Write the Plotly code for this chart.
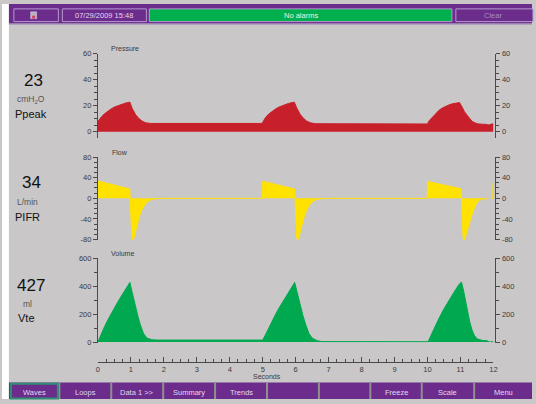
import plotly.graph_objects as go

# ---------------- data ----------------
P_T = [0.00, 0.10, 0.20, 0.30, 0.40, 0.50, 0.60, 0.70, 0.80, 0.90, 0.97, 1.04, 1.14, 1.24, 1.34, 1.45, 1.60, 4.98,
       5.00, 5.08, 5.18, 5.28, 5.38, 5.48, 5.58, 5.68, 5.78, 5.88, 5.96, 6.03, 6.13, 6.23, 6.33, 6.45, 6.60, 9.98,
       10.00, 10.05, 10.15, 10.25, 10.35, 10.45, 10.55, 10.65, 10.75, 10.85, 10.97, 11.05, 11.12, 11.20, 11.28, 11.35,
       11.45, 11.55, 11.82, None, 11.93, 12.00]
P_V = [7.8, 11.3, 13.8, 15.9, 17.6, 19.0, 20.1, 21.0, 21.8, 22.5, 22.8, 18.0, 13.3, 10.3, 8.2, 6.9, 6.4, 6.4,
       7.5, 10.8, 13.6, 15.7, 17.4, 18.9, 20.0, 21.0, 21.8, 22.4, 22.8, 18.5, 13.6, 10.5, 8.3, 6.9, 6.2, 6.0,
       6.0, 8.5, 11.2, 14.2, 16.6, 18.3, 19.7, 20.7, 21.5, 22.1, 22.5, 19.0, 15.5, 12.8, 10.0, 8.0,
       6.7, 6.0, 5.6, None, 6.0, 6.0]

F_T = [0.00, 0.97, 0.98, 1.00, 1.03, 1.06, 1.10, 1.15, 1.20, 1.27, 1.35, 1.45, 1.55, 1.65, 1.80, 2.00, 4.99,
       5.00, 5.97, 5.98, 6.00, 6.03, 6.06, 6.10, 6.15, 6.20, 6.27, 6.35, 6.45, 6.55, 6.65, 6.80, 7.00, 9.99,
       10.00, 11.02, 11.03, 11.05, 11.08, 11.12, 11.16, 11.25, 11.35, 11.45, 11.55, 11.65, 11.82, None,
       11.93, 11.98, 11.99, 12.00]
F_V = [33.5, 18.0, -5, -45, -76, -81, -76, -62, -48, -33, -20, -10, -4.5, -2, -0.5, 0, 0,
       33.0, 18.0, -5, -45, -76, -81, -76, -62, -48, -33, -20, -10, -4.5, -2, -0.5, 0, 0,
       32.6, 18.5, -5, -50, -78, -81, -72, -56, -32, -14, -4.5, -1.5, -0.5, None,
       0, 0, 30, 30]

V_T = [0.00, 0.10, 0.20, 0.30, 0.40, 0.50, 0.60, 0.70, 0.80, 0.90, 0.97, 1.04, 1.14, 1.22, 1.29, 1.39, 1.49, 1.64, 1.80, 4.98,
       5.00, 5.10, 5.20, 5.30, 5.40, 5.50, 5.60, 5.70, 5.80, 5.90, 5.97, 6.04, 6.14, 6.22, 6.30, 6.40, 6.50, 6.65, 6.80, 9.99,
       10.02, 10.10, 10.20, 10.35, 10.50, 10.65, 10.80, 10.95, 11.03, 11.10, 11.20, 11.28, 11.35, 11.42, 11.50, 11.65, 11.82,
       None, 11.93, 12.00]
V_V = [0, 58, 110, 158, 203, 245, 285, 325, 362, 400, 427, 355, 250, 180, 121, 58, 28, 16, 14, 14,
       14, 60, 110, 158, 203, 245, 285, 325, 362, 400, 427, 360, 260, 190, 128, 62, 28, 10, 3, 2,
       2, 45, 98, 170, 238, 300, 355, 410, 430, 360, 226, 145, 86, 48, 23, 12, 9,
       None, 2, 2]

X_TICKS = list(range(0, 13))
P_TICKS = [0, 20, 40, 60]
F_TICKS = [-80, -40, 0, 40, 80]
V_TICKS = [0, 200, 400, 600]

TOP_LABELS = ["07/29/2009 15:48", "No alarms", "Clear"]
BOTTOM_LABELS = ["Waves", "Loops", "Data 1 >>", "Summary", "Trends", "", "", "Freeze", "Scale", "Menu"]
READOUTS = [("23", "cmH<sub>2</sub>O", "Ppeak"), ("34", "L/min", "PIFR"), ("427", "ml", "Vte")]
PANEL_TITLES = ["Pressure", "Flow", "Volume"]

# ---------------- layout helpers ----------------
W, H = 536, 404
def X(px): return px / W
def Y(py): return 1 - py / H

FONT = "Liberation Sans, Arial, sans-serif"
GRAY = "#c9c7c8"
PURPLE = "#6b2c8c"
AX = "#4a4a4a"
TXT = "#3a3a3a"
RED = "#c8202a"
YEL = "#ffe200"
GRN = "#00a84f"

fig = go.Figure()

def wave(t, v, yax, color):
    fig.add_trace(go.Scatter(x=t, y=v, xaxis="x", yaxis=yax, mode="lines", fill="tozeroy",
                             line=dict(color=color, width=1), fillcolor=color,
                             connectgaps=False, hoverinfo="skip", showlegend=False))

wave(P_T, P_V, "y", RED)
wave(F_T, F_V, "y3", YEL)
wave(V_T, V_V, "y5", GRN)
for ax in ["y2", "y4", "y6"]:
    fig.add_trace(go.Scatter(x=[0], y=[0], xaxis="x", yaxis=ax, mode="lines",
                             line=dict(width=0), hoverinfo="skip", showlegend=False))

def yax(domain, rng, ticks, minor, side="left", overlay=None):
    d = dict(domain=domain, range=rng, tickmode="array", tickvals=ticks,
             ticktext=[str(t) for t in ticks],
             ticks="outside", ticklen=4, tickcolor=AX, tickwidth=1,
             showline=True, linecolor=AX, linewidth=1, showgrid=False, zeroline=False,
             tickfont=dict(family=FONT, size=7.5, color=TXT), fixedrange=True,
             minor=dict(tickmode="array", tickvals=minor, ticks="outside", ticklen=2.5,
                        tickcolor=AX, showgrid=False))
    if side == "right":
        d.update(side="right", overlaying=overlay, anchor="free", position=X(499))
    else:
        d.update(anchor="x")
    return d

p_dom = [Y(137.3), Y(51)]
f_dom = [Y(241), Y(156.5)]
v_dom = [Y(346.3), Y(260)]
p_min = [5, 10, 15, 25, 30, 35, 45, 50, 55]
f_min = [-70, -60, -50, -30, -20, -10, 10, 20, 30, 50, 60, 70]
v_min = [100, 300, 500]

fig.update_layout(
    width=W, height=H, autosize=False, margin=dict(l=0, r=0, t=0, b=0, pad=0),
    paper_bgcolor=GRAY, plot_bgcolor="rgba(0,0,0,0)",
    showlegend=False,
    xaxis=dict(domain=[X(97), X(497)], range=[0, 12], anchor="free", position=Y(365.7),
               tickmode="array", tickvals=X_TICKS, ticks="inside", ticklen=5, tickcolor=AX,
               showline=True, linecolor=AX, linewidth=1, showgrid=False, zeroline=False,
               tickfont=dict(family=FONT, size=7.5, color=TXT), fixedrange=True,
               minor=dict(dtick=0.25, tick0=0, ticks="inside", ticklen=3, tickcolor=AX, showgrid=False)),
    yaxis=yax(p_dom, [-5, 60], P_TICKS, p_min),
    yaxis2=yax(p_dom, [-5, 60], P_TICKS, p_min, "right", "y"),
    yaxis3=yax(f_dom, [-80, 80], F_TICKS, f_min),
    yaxis4=yax(f_dom, [-80, 80], F_TICKS, f_min, "right", "y3"),
    yaxis5=yax(v_dom, [-4, 600], V_TICKS, v_min),
    yaxis6=yax(v_dom, [-4, 600], V_TICKS, v_min, "right", "y5"),
)

shapes = []
def rect(x0, y0, x1, y1, fill, line=None, lw=0):
    shapes.append(dict(type="rect", xref="paper", yref="paper", x0=X(x0), x1=X(x1), y0=Y(y1), y1=Y(y0),
                       fillcolor=fill, line=dict(color=line or fill, width=lw), layer="above"))
def vline(x, y0, y1, color, w):
    shapes.append(dict(type="line", xref="paper", yref="paper", x0=X(x), x1=X(x), y0=Y(y1), y1=Y(y0),
                       line=dict(color=color, width=w), layer="above"))

# left white margin
rect(0, 0, 7, 404, "#ffffff")
# top bar
rect(7, 0, 536, 20, PURPLE)
shapes.append(dict(type="line", xref="paper", yref="paper", x0=X(7), x1=1, y0=Y(20.5), y1=Y(20.5),
                   line=dict(color="#9c84b4", width=1), layer="above"))
rect(12, 5, 57, 18, PURPLE, "#b69ad0", 1)
rect(61, 5, 146, 18, PURPLE, "#b69ad0", 1)
rect(149, 5, 455, 18, "#00b04f", "#b69ad0", 1)
rect(459, 5, 537, 18, PURPLE, "#b69ad0", 1)
# tiny floppy icon
rect(29, 8, 35, 15, "#b8b2bf", "#e0dce6", 0.5)
rect(30.5, 12, 33.5, 15, "#d04060")

# bottom bar
rect(7, 387, 536, 404, PURPLE)
seps = [58, 110.5, 163, 215.5, 268, 320.5, 372.5, 424.5, 477.5]
for s in seps:
    vline(s, 387, 404, "#8f8f8f", 2)
rect(9, 388.5, 56.5, 403.5, "rgba(0,0,0,0)", "#2f8f72", 2)

fig.update_layout(shapes=shapes)

ann = []
def text(x, y, s, size, color, xanchor="center"):
    ann.append(dict(x=X(x), y=Y(y), xref="paper", yref="paper", text=s, showarrow=False,
                    xanchor=xanchor, yanchor="middle",
                    font=dict(family=FONT, size=size, color=color)))

text(103.5, 12, TOP_LABELS[0], 7.5, "#e4d8f0")
text(302, 12, TOP_LABELS[1], 7.5, "#e8f4e8")
text(497, 12, TOP_LABELS[2], 7.5, "#a58cc0")

btn_edges = [8] + seps + [536]
for i, lab in enumerate(BOTTOM_LABELS):
    if lab:
        text((btn_edges[i] + btn_edges[i + 1]) / 2, 397.5, lab, 7.5, "#e4d8f0")

ro_y = [(78, 98, 112), (183, 202.5, 217.5), (287.5, 307, 321)]
ro_x = [(32, 29, 29), (30, 26, 26), (29, 26, 25)]
for (big, unit, name), ys, xs in zip(READOUTS, ro_y, ro_x):
    text(xs[0], ys[0], big, 17, "#111111")
    text(xs[1], ys[1], unit, 8.5, "#555555")
    text(xs[2], ys[2], name, 11, "#111111")

text(108, 46, PANEL_TITLES[0], 7, TXT, "left")
text(109, 151.5, PANEL_TITLES[1], 7, TXT, "left")
text(108, 255.5, PANEL_TITLES[2], 7, TXT, "left")
text(268, 381, "Seconds", 7, TXT)

fig.update_layout(annotations=ann)
fig.write_html("out.html",
               config={"displayModeBar": False, "responsive": False},
               post_script="document.body.style.margin='0px';document.body.style.padding='0px';"
                           "document.body.style.overflow='hidden';"
                           "document.documentElement.style.margin='0px';"
                           "document.documentElement.style.overflow='hidden';")
